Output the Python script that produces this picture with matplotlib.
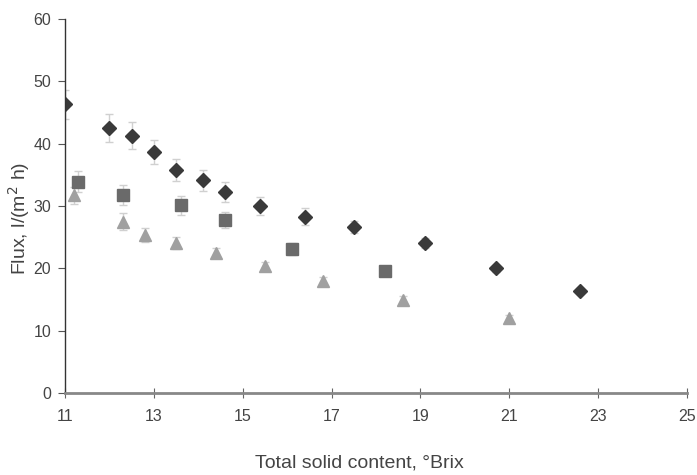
import matplotlib.pyplot as plt

plt.rcParams['font.family'] = ['Liberation Sans', 'DejaVu Sans']

# diamonds
x_d = [11.0, 12.0, 12.5, 13.0, 13.5, 14.1, 14.6, 15.4, 16.4, 17.5, 19.1, 20.7, 22.6]
y_d = [46.3, 42.5, 41.3, 38.7, 35.8, 34.1, 32.3, 30.0, 28.3, 26.6, 24.0, 20.0, 16.4]
e_d = [2.3, 2.2, 2.1, 1.9, 1.8, 1.7, 1.6, 1.5, 1.4, 1.0, 0.8, 0.6, 0.5]

# squares
x_s = [11.3, 12.3, 13.6, 14.6, 16.1, 18.2]
y_s = [33.9, 31.8, 30.1, 27.7, 23.1, 19.5]
e_s = [1.7, 1.6, 1.5, 1.3, 0.9, 0.6]

# triangles
x_t = [11.2, 12.3, 12.8, 13.5, 14.4, 15.5, 16.8, 18.6, 21.0]
y_t = [31.7, 27.5, 25.3, 24.1, 22.4, 20.3, 18.0, 15.0, 12.0]
e_t = [1.3, 1.3, 1.1, 1.0, 0.8, 0.7, 0.6, 0.5, 0.5]

xticks = [11, 13, 15, 17, 19, 21, 23, 25]
yticks = [0, 10, 20, 30, 40, 50, 60]

fig = plt.figure(figsize=(6.97, 4.75), dpi=100)
ax = fig.add_axes([65 / 697, 82 / 475, 622 / 697, 374 / 475])

ebkw = dict(linestyle='none', ecolor='#d0d0d0', elinewidth=1, capsize=3, capthick=1)
ax.errorbar(x_d, y_d, yerr=e_d, marker='D', ms=7, color='#3a3a3a', mec='#3a3a3a', **ebkw)
ax.errorbar(x_s, y_s, yerr=e_s, marker='s', ms=8, color='#6a6a6a', mec='#6a6a6a', **ebkw)
ax.errorbar(x_t, y_t, yerr=e_t, marker='^', ms=8, color='#a0a0a0', mec='#a0a0a0', **ebkw)

ax.set_xlim(11, 25)
ax.set_ylim(0, 60)
ax.set_xticks(xticks)
ax.set_yticks(yticks)

for s in ['top', 'right']:
    ax.spines[s].set_visible(False)
ax.spines['left'].set_color('#333333')
ax.spines['left'].set_linewidth(1)
ax.spines['bottom'].set_color('#888888')
ax.spines['bottom'].set_linewidth(2)

ax.tick_params(axis='y', direction='out', length=5, color='#555555', labelcolor='#444444',
               labelsize=11.5, pad=5)
ax.tick_params(axis='x', direction='inout', length=7, color='#666666', labelcolor='#444444',
               labelsize=11.5, pad=8)

ax.set_ylabel('Flux, l/(m$^2$ h)', fontsize=14, color='#444444', va='center')
ax.yaxis.set_label_coords(-0.074, 0.468)
ax.set_xlabel('Total solid content, \u00b0Brix', fontsize=14, color='#444444', va='center')
ax.xaxis.set_label_coords(0.473, -0.187)

fig.savefig('out.png', dpi=100)
